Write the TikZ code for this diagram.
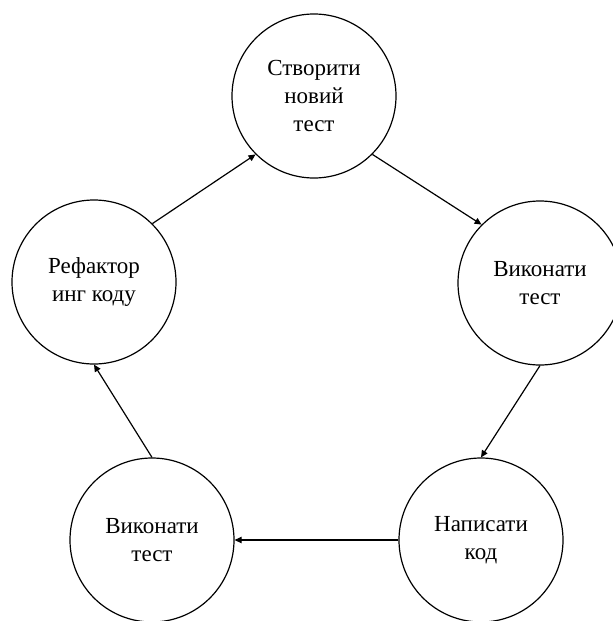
\documentclass[tikz,border=0pt]{standalone}
\usepackage{fontspec}
\setmainfont{Liberation Serif}
\usetikzlibrary{arrows.meta}

\begin{document}
\begin{tikzpicture}[x=0.5pt, y=-0.5pt,
        step circle/.style={draw, circle, line width=0.6pt, minimum size=82pt,
            inner sep=0pt, align=center, font=\fontsize{11.5pt}{14pt}\selectfont},
        flow/.style={line width=0.6pt, -{Triangle[length=3.5pt, width=3.2pt]}}]
    \useasboundingbox (0,0) rectangle (613,621);

    % cycle steps
    \node[step circle] (create)   at (314,96)  {Створити\\новий\\тест};
    \node[step circle] (runA)     at (540,283) {Виконати\\тест};
    \node[step circle] (write)    at (481,540) {Написати\\код};
    \node[step circle] (runB)     at (152,540) {Виконати\\тест};
    \node[step circle] (refactor) at (94,282)  {Рефактор\\инг коду};

    \draw[flow] (create.-45) -- (runA.135);
    \draw[flow] (runA.south) -- (write.north);
    \draw[flow] (write.west) -- (runB.east);
    \draw[flow] (runB.north) -- (refactor.south);
    \draw[flow] (refactor.45) -- (create.-135);
\end{tikzpicture}
\end{document}
